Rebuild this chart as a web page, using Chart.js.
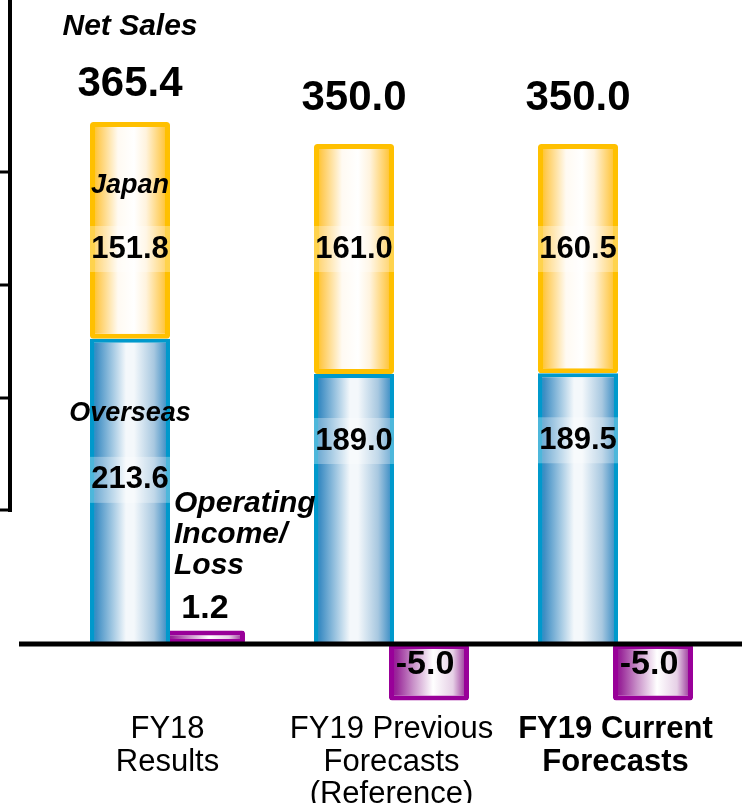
<!DOCTYPE html>
<html lang="en">
<head>
<meta charset="utf-8">
<title>Net Sales and Operating Income/Loss</title>
<script src="https://cdn.jsdelivr.net/npm/chart.js@4.4.1/dist/chart.umd.min.js"></script>
<style>
  html, body { margin: 0; padding: 0; background: #fff; }
  #wrap { position: relative; width: 742px; height: 803px; }
</style>
</head>
<body>
<div id="wrap"><canvas id="salesChart"></canvas></div>
<script>
// Values (billions of yen).
const CATEGORIES = [
  ["FY18", "Results"],
  ["FY19 Previous", "Forecasts", "(Reference)"],
  ["FY19 Current", "Forecasts"],
];
const OVERSEAS = [213.6, 189.0, 189.5];
const JAPAN = [151.8, 161.0, 160.5];
const OPERATING = [1.2, -5.0, -5.0];

const SALES_TITLE = "Net Sales";
const OVERSEAS_NAME = "Overseas";
const JAPAN_NAME = "Japan";
const OPERATING_NAME = ["Operating", "Income/", "Loss"];
const HIGHLIGHT_INDEX = 2;

const FONT = '"Liberation Sans", Arial, sans-serif';
const CATEGORY_PCT = 150 / 224;
const BAR_PCT = 80 / 75;

const BLUE_STOPS = [
  [0, "#0099cc"], [0.08, "#3f8ec4"], [0.45, "#f4f8fb"], [0.55, "#f4f8fb"],
  [0.8, "#a8c8e0"], [0.94, "#4d97c9"], [1, "#0099cc"],
];
const ORANGE_STOPS = [
  [0, "#ffc000"], [0.1, "#ffcb55"], [0.35, "#fffaf2"], [0.55, "#ffffff"],
  [0.7, "#fff3dd"], [0.92, "#ffc94a"], [1, "#ffc000"],
];
const PURPLE_STOPS = [
  [0, "#990099"], [0.1, "#9a2a9a"], [0.3, "#c890c8"], [0.55, "#ffffff"],
  [0.8, "#e6d0e6"], [0.95, "#a040a0"], [1, "#990099"],
];

// Horizontal gradient across each bar, positioned from the x scale.
function barGradient(stops) {
  return (context) => {
    const chart = context.chart;
    const xScale = chart.scales.x;
    if (!xScale || context.type !== "data" || !xScale.width) {
      return stops[0][1];
    }
    const slot = (xScale.width / CATEGORIES.length) * CATEGORY_PCT / 2;
    const width = slot * BAR_PCT;
    const side = context.dataset.stack === "sales" ? -0.5 : 0.5;
    const center = xScale.getPixelForValue(context.dataIndex) + side * slot;
    const gradient = chart.ctx.createLinearGradient(center - width / 2, 0, center + width / 2, 0);
    stops.forEach(([offset, color]) => gradient.addColorStop(offset, color));
    return gradient;
  };
}

function drawText(ctx, text, x, y, size, style, align) {
  ctx.font = `${style} ${size}px ${FONT}`;
  ctx.textAlign = align || "center";
  ctx.textBaseline = "middle";
  ctx.fillStyle = "#000";
  ctx.fillText(text, x, y);
}

function drawValueBox(ctx, bar, y) {
  ctx.fillStyle = "rgba(255, 255, 255, 0.3)";
  ctx.fillRect(bar.x - bar.width / 2, y - 23, bar.width + 2, 46);
}

// Cropped axis fragment on the left edge of the slide and the zero line.
const decorPlugin = {
  id: "decor",
  beforeDatasetsDraw(chart) {
    const { ctx } = chart;
    ctx.save();
    ctx.strokeStyle = "#000";
    ctx.lineWidth = 4;
    ctx.beginPath();
    ctx.moveTo(10, 0);
    ctx.lineTo(10, 512);
    ctx.stroke();
    ctx.lineWidth = 3;
    [172, 285, 398, 510].forEach((y) => {
      ctx.beginPath();
      ctx.moveTo(0, y);
      ctx.lineTo(12, y);
      ctx.stroke();
    });
    ctx.restore();
  },
  afterDatasetsDraw(chart) {
    const { ctx } = chart;
    const zero = chart.scales.y.getPixelForValue(0);
    ctx.save();
    ctx.strokeStyle = "#000";
    ctx.lineWidth = 5;
    ctx.beginPath();
    ctx.moveTo(19, zero);
    ctx.lineTo(chart.width, zero);
    ctx.stroke();
    ctx.restore();
  },
};

const labelPlugin = {
  id: "barLabels",
  afterDraw(chart) {
    const { ctx } = chart;
    const overseasBars = chart.getDatasetMeta(0).data;
    const japanBars = chart.getDatasetMeta(1).data;
    const operatingBars = chart.getDatasetMeta(2).data;

    ctx.save();
    CATEGORIES.forEach((_, i) => {
      const first = i === 0;
      const overseas = overseasBars[i];
      const japan = japanBars[i];
      const op = operatingBars[i];

      // Net sales total above the stack
      if (first) {
        drawText(ctx, SALES_TITLE, japan.x, japan.y - 95, 30, "italic bold");
      }
      drawText(ctx, (OVERSEAS[i] + JAPAN[i]).toFixed(1), japan.x, japan.y - (first ? 38 : 46), 42, "bold");

      // Japan segment
      if (first) {
        drawText(ctx, JAPAN_NAME, japan.x, japan.y + 64, 27, "italic bold");
      }
      const japanY = japan.y + (first ? 127 : 105);
      drawValueBox(ctx, japan, japanY);
      drawText(ctx, JAPAN[i].toFixed(1), japan.x, japanY, 31, "bold");

      // Overseas segment
      if (first) {
        drawText(ctx, OVERSEAS_NAME, overseas.x, overseas.y + 75, 27, "italic bold");
      }
      const overseasY = overseas.y + (first ? 141 : 67);
      drawValueBox(ctx, overseas, overseasY);
      drawText(ctx, OVERSEAS[i].toFixed(1), overseas.x, overseasY, 31, "bold");

      // Operating income / loss
      if (first) {
        const left = op.x - op.width / 2 + 9;
        OPERATING_NAME.forEach((line, n) => {
          drawText(ctx, line, left, op.y - 127 + n * 31, 30, "italic bold", "left");
        });
      }
      const opY = OPERATING[i] >= 0 ? op.y - 22 : (op.y + op.base) / 2 - 8;
      drawText(ctx, OPERATING[i].toFixed(1), op.x - (first ? 0 : 4), opY, 34, "bold");
    });
    ctx.restore();
  },
};

new Chart(document.getElementById("salesChart"), {
  type: "bar",
  data: {
    labels: CATEGORIES,
    datasets: [
      {
        label: OVERSEAS_NAME,
        data: OVERSEAS,
        stack: "sales",
        yAxisID: "y",
        backgroundColor: barGradient(BLUE_STOPS),
        borderColor: "#0099cc",
        borderWidth: 4,
        borderSkipped: "start",
      },
      {
        label: JAPAN_NAME,
        data: JAPAN,
        stack: "sales",
        yAxisID: "y",
        backgroundColor: barGradient(ORANGE_STOPS),
        borderColor: "#ffc000",
        borderWidth: 5,
        borderSkipped: false,
        borderRadius: 3,
      },
      {
        label: OPERATING_NAME.join(" "),
        data: OPERATING,
        stack: "op",
        yAxisID: "y2",
        backgroundColor: barGradient(PURPLE_STOPS),
        borderColor: "#990099",
        borderWidth: 5,
        borderSkipped: false,
        borderRadius: 3,
      },
    ],
  },
  options: {
    responsive: true,
    maintainAspectRatio: false,
    animation: false,
    categoryPercentage: CATEGORY_PCT,
    barPercentage: BAR_PCT,
    layout: {
      padding: { left: 55.5, right: 14.5, top: 0, bottom: 0 },
    },
    plugins: {
      legend: { display: false },
      tooltip: { enabled: false },
    },
    scales: {
      x: {
        grid: { display: false },
        border: { display: false },
        ticks: {
          color: "#000",
          padding: 1,
          maxRotation: 0,
          autoSkip: false,
          font: (context) => ({
            family: FONT,
            size: 31,
            lineHeight: 1.06,
            weight: context.index === HIGHLIGHT_INDEX ? "bold" : "normal",
          }),
        },
        afterFit(scale) {
          scale.height = 99.25;
        },
      },
      y: {
        display: false,
        stacked: true,
        min: -41.82,
        max: 450.8,
      },
      y2: {
        display: false,
        stacked: true,
        min: -5.288,
        max: 56.99,
      },
    },
  },
  plugins: [decorPlugin, labelPlugin],
});
</script>
</body>
</html>
